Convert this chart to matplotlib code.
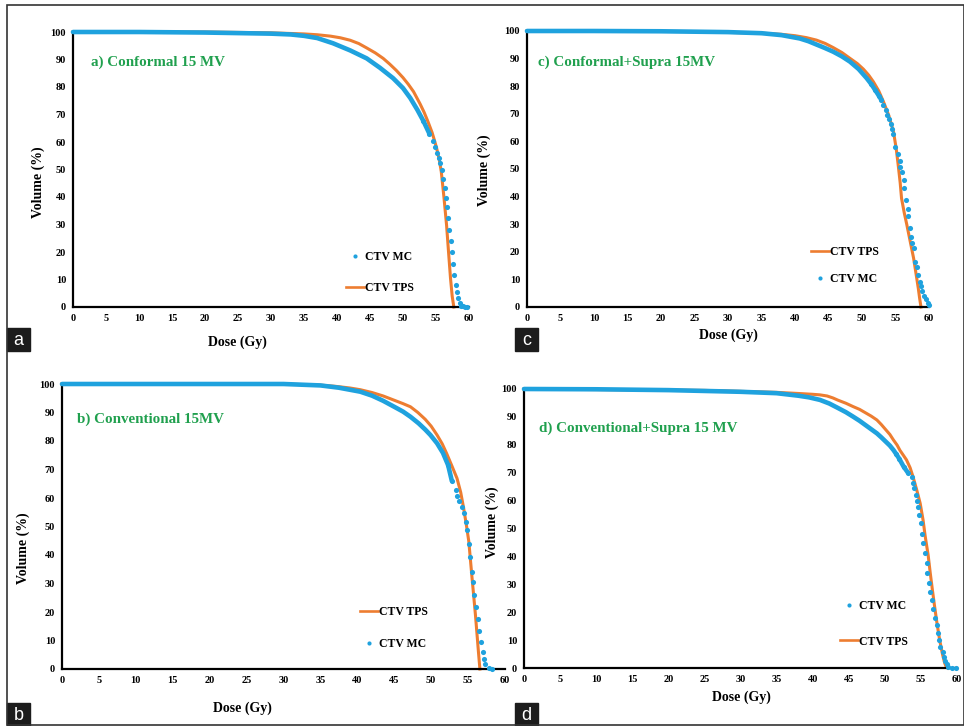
import numpy as np
import matplotlib
matplotlib.use("Agg")
import matplotlib.pyplot as plt
from matplotlib.lines import Line2D
from matplotlib.patches import Rectangle

# размеры картинки в пикселях
W, H = 964, 726

dose_ticks = list(range(0, 61, 5))
vol_ticks = list(range(0, 101, 10))

# a) Conformal 15 MV
a_mc_dose = [0, 10, 20, 30, 33, 35, 37, 39.4, 42, 44.5, 46.5, 48.5, 50, 51.1, 52.2, 53.1, 54.0, 54.6,
             54.9, 55.2, 55.4, 55.6, 55.9, 56.1, 56.3, 56.5, 56.7, 56.8, 57.0, 57.2, 57.4, 57.6,
             57.8, 58.0, 58.2, 58.4, 58.6, 58.8, 59.1, 59.4, 59.7]
a_mc_vol = [100, 100, 99.8, 99.4, 99.1, 98.6, 97.8, 95.9, 93.3, 90.4, 87.0, 83.2, 79.6, 76.0, 71.6, 67.6, 63.0, 60.2,
            58.3, 55.9, 54.1, 52.3, 49.8, 46.5, 43.4, 39.8, 36.2, 32.2, 28.0, 24.0, 19.9, 15.5,
            11.6, 8.0, 5.3, 3.2, 1.3, 0.4, 0.2, 0.1, 0.0]
a_tps_dose = [0, 20, 30, 35, 37, 39, 40.5, 42, 43.3, 44.5, 45.8, 47, 48, 49, 50, 50.8, 51.6, 52.6, 53.2,
              53.8, 54.4, 54.8, 55.1, 55.5, 55.8, 56.2, 56.6, 56.9, 57.2, 57.45, 57.7]
a_tps_vol = [100, 100, 99.7, 99.3, 99.0, 98.5, 97.9, 97.0, 95.8, 94.2, 92.4, 90.4, 88.3, 86.0, 83.4, 81.0, 78.3, 73.8, 70.8,
             67.3, 63.5, 60.3, 57.7, 53.5, 49.2, 40.0, 29.8, 20.0, 10.4, 4.0, 0.0]

# c) Conformal+Supra 15MV
c_mc_dose = [0, 10, 20, 30, 35, 38, 40.7, 42, 43, 44.4, 45.7, 47, 48.2, 49.5, 50.7, 51.4, 52, 52.5, 52.9,
             53.2, 53.6, 53.8, 54.1, 54.3, 54.5, 54.7, 55.0, 55.3, 55.6, 55.7, 55.9, 56.2, 56.3, 56.5,
             56.8, 56.9, 57.2, 57.3, 57.5, 57.7, 57.9, 58.2, 58.4, 58.7, 58.8, 59.0, 59.3, 59.5, 59.9, 60.0]
c_mc_vol = [100, 100, 99.9, 99.6, 99.2, 98.5, 97.3, 96.3, 95.3, 93.9, 92.5, 90.8, 88.9, 86.2, 82.9, 80.7, 78.5, 76.6, 75.0,
            73.2, 71.4, 69.7, 68.0, 66.2, 64.5, 62.7, 57.9, 55.4, 53.0, 50.8, 48.8, 46.0, 43.0, 38.8,
            35.4, 33.0, 28.7, 25.5, 23.3, 21.3, 16.4, 14.6, 11.6, 9.2, 7.7, 5.8, 4.1, 2.8, 1.3, 0.7]
c_tps_dose = [0, 25, 35, 38, 40, 41.7, 43.2, 44.5, 45.7, 47, 48.2, 49.3, 50.2, 51, 51.7, 52.5, 53.2, 54, 54.7,
              55.1, 55.4, 55.7, 55.9, 56.3, 56.7, 57.2, 57.7, 58.1, 58.4, 58.6, 58.8]
c_tps_vol = [100, 99.8, 99.2, 98.8, 98.3, 97.6, 96.7, 95.5, 94.0, 92.2, 90.1, 88.2, 86.2, 84.0, 81.6, 78.3, 74.4, 69.4, 63.5,
             57.5, 51.5, 45.0, 39.4, 34.2, 29.7, 23.7, 17.7, 11.5, 6.8, 3.2, 0.0]

# b) Conventional 15MV
b_mc_dose = [0, 10, 20, 30, 35, 37.5, 40.4, 42, 43.5, 45, 46.2, 47.2, 48.3, 49.2, 49.9, 50.8, 51.6, 52.3,
             52.8, 53.3, 53.5, 53.8, 54.2, 54.4, 54.7, 54.8, 55.1, 55.3, 55.5, 55.7, 55.8, 56.1, 56.3,
             56.5, 56.7, 57.0, 57.1, 57.3, 57.8, 58.2]
b_mc_vol = [100, 100, 100, 100, 99.5, 98.7, 97.3, 95.9, 94.1, 92.0, 90.3, 88.5, 86.2, 84.0, 82.1, 79.2, 75.8, 71.5,
            66.0, 62.8, 60.8, 58.9, 57.0, 54.6, 51.7, 48.8, 43.7, 39.4, 34.1, 30.4, 26.0, 21.9, 17.4,
            13.3, 9.6, 6.1, 3.5, 1.6, 0.5, 0.0]
b_tps_dose = [0, 30, 35, 37, 39, 40.4, 42, 43.5, 45, 46.2, 47.2, 48.2, 49.2, 50, 50.8, 51.5, 52.1, 52.8, 53.5,
              54.0, 54.4, 54.8, 55.1, 55.5, 56.0, 56.4, 56.6]
b_tps_vol = [100, 100, 99.6, 99.2, 98.6, 98.0, 97.0, 95.8, 94.3, 93.1, 92.0, 90.0, 87.6, 85.2, 82.1, 79.0, 75.6, 71.3, 66.9,
             62.0, 56.4, 50.0, 44.7, 33.0, 18.9, 6.1, 0.0]

# d) Conventional+Supra 15 MV
d_mc_dose = [0, 10, 20, 30, 35, 38, 39.5, 41.0, 42.3, 43.5, 44.6, 45.6, 46.5, 47.3, 48.1, 48.9, 49.5, 50.1,
             50.7, 51.2, 51.6, 52.0, 52.6, 53.2,
             53.7, 53.9, 54.1, 54.3, 54.4, 54.6, 54.8, 55.0, 55.1, 55.3, 55.6, 55.8, 55.9, 56.1,
             56.3, 56.5, 56.7, 57.0, 57.2, 57.3, 57.5, 57.7, 58.0, 58.2, 58.3, 58.6, 58.8, 59.3, 59.9]
d_mc_vol = [100, 99.9, 99.6, 99.0, 98.5, 97.6, 97.0, 96.1, 94.8, 93.2, 91.7, 90.1, 88.6, 87.1, 85.6, 84.1, 82.7, 81.2,
            79.7, 78.1, 76.6, 75.0, 72.2, 70.0,
            68.6, 66.2, 64.4, 62.0, 60.0, 57.8, 54.8, 51.8, 48.2, 44.7, 41.1, 37.8, 34.2, 30.6,
            27.4, 24.3, 21.0, 18.1, 15.4, 12.4, 10.0, 7.6, 5.9, 3.8, 2.5, 1.3, 0.5, 0.0, 0.0]
d_tps_dose = [0, 25, 35, 38, 40, 41, 42, 42.8, 43.5, 44.6, 45.6, 46.5, 47.3, 48.1, 48.9, 49.5, 50.1, 50.7, 51.2,
              51.7, 52.1, 52.5, 53.0, 53.5, 53.9, 54.4, 54.9, 55.3, 55.6, 56.0, 56.3, 56.6, 56.9, 57.2,
              57.6, 58.0, 58.3, 58.5, 58.7]
d_tps_vol = [100, 99.5, 98.8, 98.4, 98.1, 97.9, 97.5, 96.8, 96.0, 94.9, 93.7, 92.7, 91.5, 90.3, 88.9, 87.3, 85.5, 83.7, 81.7,
             79.9, 78.0, 76.5, 74.6, 71.8, 68.6, 64.0, 59.0, 53.0, 47.1, 40.5, 33.9, 27.8, 22.0, 16.5,
             10.0, 4.8, 1.7, 0.5, 0.0]

BLUE = '#1fa2de'
ORANGE = '#ed7d31'
GREEN = '#20a04e'
SERIF = 'Liberation Serif'


def fx(px):
    return px / W


def fy(py):
    return 1 - py / H


plt.rcParams['font.family'] = SERIF
plt.rcParams['font.weight'] = 'bold'

fig = plt.figure(figsize=(W / 100, H / 100), dpi=100)


def draw_panel(p, mc_dose, mc_vol, tps_dose, tps_vol):
    left, right, top, bottom = p['box']
    ax = fig.add_axes([fx(left), fy(bottom), (right - left) / W, (bottom - top) / H])
    ax.set_xlim(0, 60)
    ax.set_ylim(0, 100)
    ax.set_xticks(dose_ticks)
    ax.set_yticks(vol_ticks)
    ax.tick_params(length=0, pad=5, labelsize=7.5)
    for s in ['top', 'right']:
        ax.spines[s].set_visible(False)
    for s in ['left', 'bottom']:
        ax.spines[s].set_linewidth(1.6)

    ax.plot(tps_dose, tps_vol, color=ORANGE, lw=2.2, zorder=2, clip_on=False)
    mc_dose = np.array(mc_dose)
    mc_vol = np.array(mc_vol)
    # верхняя часть MC сливается в сплошную линию, ниже - отдельные точки
    solid = mc_vol >= p['cut']
    ax.plot(mc_dose[solid], mc_vol[solid], color=BLUE, lw=3.3,
            solid_capstyle='round', zorder=3, clip_on=False)
    dots = mc_vol < p['cut'] + 8
    ax.plot(mc_dose[dots], mc_vol[dots], ls='none', marker='o', ms=3.7,
            mec='none', color=BLUE, zorder=4, clip_on=False)

    # легенда
    h_tps = Line2D([], [], color=ORANGE, lw=1.9)
    h_mc = Line2D([], [], ls='none', marker='o', ms=3.0, mec='none', color=BLUE)
    if p['mc_first']:
        handles, labels = [h_mc, h_tps], ['CTV MC', 'CTV TPS']
    else:
        handles, labels = [h_tps, h_mc], ['CTV TPS', 'CTV MC']
    ax.legend(handles, labels, loc='upper left', bbox_to_anchor=(fx(p['leg'][0]), fy(p['leg'][1])),
              bbox_transform=fig.transFigure, frameon=False, borderpad=0, handlelength=1.5,
              handletextpad=0.1, labelspacing=p['spacing'],
              prop=dict(family=SERIF, weight='bold', size=8.5))

    fig.text(fx(p['title_xy'][0]), fy(p['title_xy'][1]), p['title'], color=GREEN,
             fontsize=10.8, weight='bold', ha='left', va='center')
    fig.text(fx(p['ylab'][0]), fy(p['ylab'][1]), 'Volume (%)', rotation=90,
             fontsize=10, weight='bold', ha='center', va='center')
    fig.text(fx(p['xlab'][0]), fy(p['xlab'][1]), 'Dose (Gy)',
             fontsize=10, weight='bold', ha='center', va='center')

    # буква панели в чёрном квадрате
    lx, ly = p['letter_xy']
    fig.add_artist(Rectangle((fx(lx), fy(ly + 23)), 23 / W, 23 / H,
                             transform=fig.transFigure, color='#1c1c1c'))
    fig.text(fx(lx + 11.5), fy(ly + 12), p['letter'], color='white', fontsize=13,
             family='Liberation Sans', weight='normal', ha='center', va='center')
    return ax


panels = [
    dict(box=(73, 469, 32, 307), cut=62, mc_first=True, leg=(340, 245), spacing=1.6,
         title='a) Conformal 15 MV', title_xy=(91, 62), ylab=(38, 182), xlab=(237, 342),
         letter='a', letter_xy=(7, 328)),
    dict(box=(527, 929, 31, 307), cut=74, mc_first=False, leg=(805, 240), spacing=1.25,
         title='c) Conformal+Supra 15MV', title_xy=(538, 62), ylab=(484, 170), xlab=(728, 335),
         letter='c', letter_xy=(515, 328)),
    dict(box=(62, 505, 384, 669), cut=64, mc_first=False, leg=(354, 600), spacing=1.7,
         title='b) Conventional 15MV', title_xy=(77, 419), ylab=(23, 548), xlab=(242, 708),
         letter='b', letter_xy=(7, 703)),
    dict(box=(524, 957, 389, 668), cut=69, mc_first=True, leg=(834, 594), spacing=2.0,
         title='d) Conventional+Supra 15 MV', title_xy=(539, 428), ylab=(492, 522), xlab=(741, 697),
         letter='d', letter_xy=(515, 703)),
]

draw_panel(panels[0], a_mc_dose, a_mc_vol, a_tps_dose, a_tps_vol)
draw_panel(panels[1], c_mc_dose, c_mc_vol, c_tps_dose, c_tps_vol)
draw_panel(panels[2], b_mc_dose, b_mc_vol, b_tps_dose, b_tps_vol)
draw_panel(panels[3], d_mc_dose, d_mc_vol, d_tps_dose, d_tps_vol)

# внешняя рамка
fig.add_artist(Rectangle((fx(7), fy(725)), (W - 7) / W, 720 / H, transform=fig.transFigure,
                         fill=False, ec='#333333', lw=1.2))

fig.savefig('out.png', dpi=100)
